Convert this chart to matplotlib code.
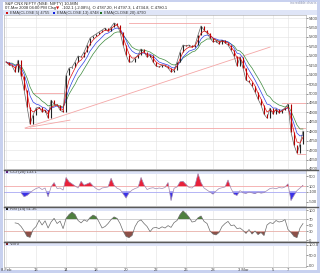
import numpy as np
import matplotlib
matplotlib.use('Agg')
import matplotlib.pyplot as plt
from matplotlib.patches import Rectangle
from matplotlib.lines import Line2D

# ---- data (bar index 0..99) ----
close = [5167, 5151, 5146, 5114, 5177, 5093, 5018, 4928, 4838, 4886,
         4923, 4928, 4902, 4912, 4870, 4965, 4944, 4939, 4912, 4902,
         5098, 5135, 5140, 5167, 5199, 5193, 5220, 5257, 5294, 5305,
         5315, 5326, 5336, 5347, 5331, 5352, 5374, 5363, 5326, 5257,
         5204, 5167, 5167, 5188, 5204, 5236, 5220, 5193, 5204, 5167,
         5146, 5140, 5151, 5146, 5135, 5114, 5124, 5167, 5220, 5257,
         5252, 5257, 5246, 5257, 5310, 5358, 5336, 5320, 5294, 5273,
         5278, 5262, 5283, 5268, 5257, 5230, 5199, 5146, 5193, 5135,
         5071, 5061, 5040, 5008, 4971, 4939, 4891, 4870, 4923, 4891,
         4918, 4896, 4912, 4923, 4944, 4796, 4727, 4684, 4732, 4801]
ema5 = [5167, 5156, 5151, 5135, 5156, 5124, 5071, 5002, 4918, 4902,
        4912, 4923, 4912, 4912, 4891, 4928, 4934, 4939, 4923, 4912,
        5008, 5071, 5103, 5135, 5167, 5177, 5199, 5230, 5262, 5283,
        5299, 5310, 5326, 5336, 5331, 5342, 5358, 5363, 5342, 5299,
        5252, 5209, 5188, 5188, 5199, 5214, 5220, 5204, 5204, 5188,
        5167, 5156, 5151, 5151, 5140, 5130, 5124, 5146, 5183, 5220,
        5236, 5246, 5246, 5252, 5283, 5320, 5331, 5326, 5310, 5294,
        5283, 5273, 5278, 5273, 5268, 5246, 5225, 5188, 5188, 5161,
        5119, 5087, 5066, 5040, 5002, 4971, 4934, 4902, 4912, 4902,
        4912, 4902, 4907, 4918, 4928, 4865, 4796, 4743, 4737, 4769]
ema13 = [5167, 5161, 5156, 5146, 5156, 5135, 5103, 5050, 4987, 4955,
         4944, 4939, 4928, 4923, 4907, 4923, 4928, 4934, 4928, 4923,
         4976, 5024, 5061, 5093, 5124, 5146, 5167, 5193, 5225, 5246,
         5268, 5283, 5299, 5315, 5320, 5331, 5342, 5347, 5342, 5315,
         5283, 5246, 5225, 5214, 5209, 5214, 5214, 5209, 5209, 5199,
         5183, 5167, 5161, 5156, 5151, 5140, 5135, 5146, 5167, 5193,
         5209, 5225, 5230, 5236, 5257, 5289, 5305, 5310, 5305, 5294,
         5289, 5283, 5283, 5278, 5273, 5262, 5241, 5214, 5209, 5188,
         5151, 5124, 5098, 5071, 5040, 5008, 4976, 4944, 4939, 4923,
         4923, 4912, 4912, 4918, 4923, 4886, 4838, 4790, 4775, 4780]
ema20 = [5167, 5161, 5161, 5151, 5156, 5146, 5119, 5082, 5034, 5002,
         4987, 4976, 4960, 4949, 4934, 4939, 4939, 4939, 4934, 4928,
         4960, 4997, 5024, 5050, 5082, 5103, 5130, 5156, 5183, 5209,
         5230, 5252, 5268, 5283, 5294, 5305, 5320, 5326, 5326, 5310,
         5289, 5268, 5246, 5236, 5230, 5230, 5230, 5225, 5220, 5209,
         5199, 5188, 5183, 5177, 5167, 5156, 5151, 5156, 5167, 5188,
         5199, 5209, 5220, 5225, 5241, 5268, 5278, 5289, 5289, 5289,
         5283, 5278, 5278, 5278, 5273, 5262, 5252, 5230, 5225, 5209,
         5183, 5156, 5135, 5108, 5082, 5055, 5024, 4992, 4981, 4960,
         4949, 4939, 4934, 4928, 4934, 4907, 4870, 4833, 4812, 4812]
nan = np.nan
cci = [nan, nan, nan, nan, nan, -150, -300, -250, -150, -50,
       20, 60, -20, 40, -300, 80, 250, 20, 40, -40,
       450, 280, 200, 120, 40, 300, 150, 200, 250, 120,
       20, -40, 40, 60, 80, 420, 150, 30, -20, -180,
       -350, -150, -40, 20, 60, 450, 160, -20, 30, 50,
       10, 40, 20, 60, 250, -450, 30, 80, 280, 300,
       180, 60, 40, 150, 600, 250, 40, -40, -120, -200,
       -80, 20, 50, 80, 350, 20, -200, -250, -60, -150,
       -170, -120, -150, -180, -120, -160, -140, -60, 20, 40,
       10, 60, 40, 80, 200, -450, -250, -60, 40, 140]
rsi = [nan, nan, nan, 57, 55, 45, 30, 12, 9, 35,
       45, 66, 50, 64, 40, 60, 72, 55, 63, 38,
       72, 85, 93, 85, 65, 57, 67, 62, 75, 83,
       78, 60, 40, 45, 55, 68, 77, 72, 55, 30,
       12, 8, 15, 45, 62, 67, 55, 45, 28, 40,
       42, 38, 44, 40, 48, 42, 58, 65, 85, 97,
       88, 76, 60, 62, 74, 80, 62, 55, 30, 20,
       17, 25, 45, 55, 62, 48, 50, 38, 40, 32,
       22, 35, 20, 30, 18, 25, 15, 50, 58, 55,
       65, 60, 62, 68, 35, 25, 12, 8, 40, 55]

day_pos = [0, 10, 20, 30, 40, 50, 60, 69, 79, 89, 94]
day_labels = ['8 Feb', '13', '14', '18', '20', '22', '26', '28', '3 Mar', '5', '7']

price_ticks = list(range(4600, 5401, 50))
cci_ticks = [500, 100, -100, -500]
rsi_ticks = [100, 70, 50, 30, 0]
vol_ticks = [100, 50, 0]

# drawn support / resistance and trend lines: (bar0, price0, bar1, price1)
hlines = [(6.3, 4817, 100, 4817), (9, 5002, 19, 5002), (41, 5374, 68, 5374),
          (92, 4949, 100, 4949), (97, 4679, 100, 4679)]
tlines = [(6.3, 4817, 88, 5246), (8, 4822, 21.3, 4859)]

# ---- figure ----
W, H = 320, 273
plt.rcParams['font.family'] = ['Liberation Sans', 'DejaVu Sans']
fig = plt.figure(figsize=(W / 100, H / 100), dpi=100)
fig.patch.set_facecolor('#c8d1ef')


def box(x0, y0, x1, y1):
    return [x0 / W, 1 - y1 / H, (x1 - x0) / W, (y1 - y0) / H]


# white chart body and legend strip, behind the axes
fig.patches.append(Rectangle((3 / W, 1 - 270 / H), 314 / W, 268 / H,
                             transform=fig.transFigure, facecolor='white',
                             edgecolor='none', zorder=-2))
fig.patches.append(Rectangle((3 / W, 1 - 15 / H), 314 / W, 4.5 / H,
                             transform=fig.transFigure, facecolor='#dfe5f7',
                             edgecolor='none', zorder=-1))

fs = 3.0
tc = '#444444'
fig.text(5 / W, 1 - 3.5 / H, 'S&P CNX NIFTY (NSE: NIFTY) 10-MIN', fontsize=fs,
         color='#222222', va='center')
fig.text(5 / W, 1 - 8 / H, '07-Mar 2008 04:00 PM Clsg', fontsize=fs,
         color='#222222', va='center')
fig.text(56 / W, 1 - 8 / H, '\u25bc', fontsize=fs, color='#d01010', va='center',
         family='DejaVu Sans')
fig.text(62 / W, 1 - 8 / H, '-102.1 (-2.08%), O 4787.20, H 4797.3, L 4734.8, C 4780.1',
         fontsize=fs, color='#222222', va='center')
fig.text(316 / W, 1 - 3 / H, 'incredible charts', fontsize=2.6, color='#8890b0',
         va='center', ha='right')

leg = [('EMA(CLOSE,5) 4755', '#d01010', 6),
       ('EMA(CLOSE,13) 4748', '#1020e0', 53),
       ('EMA(CLOSE,20) 4790', '#207020', 100)]
for txt, c, x in leg:
    fig.patches.append(Rectangle((x / W, 1 - 14 / H), 2 / W, 2 / H,
                                 transform=fig.transFigure, facecolor=c,
                                 edgecolor='none'))
    fig.text((x + 4) / W, 1 - 13 / H, txt, fontsize=fs, color='#333333', va='center')

ax_p = fig.add_axes(box(4, 15, 306, 169))
ax_c = fig.add_axes(box(4, 170, 306, 206))
ax_r = fig.add_axes(box(4, 207, 306, 241))
ax_v = fig.add_axes(box(4, 242, 306, 267))

bars = np.arange(len(close))
for ax in (ax_p, ax_c, ax_r, ax_v):
    ax.set_facecolor('white')
    ax.set_xlim(-0.7, 100)
    ax.yaxis.tick_right()
    ax.tick_params(axis='y', labelsize=fs, colors=tc, length=1.2, width=0.4, pad=1)
    ax.tick_params(axis='x', length=0, labelsize=fs, colors=tc, pad=1)
    for s in ax.spines.values():
        s.set_color('#a0a0a0')
        s.set_linewidth(0.4)
    ax.set_xticks(day_pos)
    ax.set_xticklabels([])
    ax.grid(True, color='#e2e2e2', linewidth=0.4)
    ax.set_axisbelow(True)

ax_v.set_xticklabels(day_labels)

# ---- price panel ----
ax_p.set_ylim(4600, 5416)
ax_p.set_yticks(price_ticks)
ax_p.set_yticklabels([str(t) for t in price_ticks])
for b0, p0, b1, p1 in hlines + tlines:
    ax_p.plot([b0, b1], [p0, p1], color='#f4a6a6', linewidth=0.6, zorder=2)
ax_p.plot(bars, ema20, color='#3c8a3c', linewidth=0.5, zorder=3)
ax_p.plot(bars, ema13, color='#3040e8', linewidth=0.5, zorder=3)
ax_p.plot(bars, close, color='#606060', linewidth=0.5, zorder=4)
prev = [close[0]] + close[:-1]
for b, o, c in zip(bars, prev, close):
    col = '#222222' if c >= o else '#b00000'
    ax_p.plot([b, b], [o, c], color=col, linewidth=0.8, zorder=5,
              solid_capstyle='butt')
ax_p.plot(bars, ema5, color='#e01010', linewidth=0.5, zorder=6)

# ---- CCI panel ----
cci_a = np.array(cci, dtype=float)
ax_c.set_ylim(-660, 740)
ax_c.set_yticks(cci_ticks)
ax_c.set_yticklabels([str(t) for t in cci_ticks])
ax_c.grid(False, axis='y')
ax_c.axhline(100, color='#f4a8a8', linewidth=0.6)
ax_c.axhline(-100, color='#a8a8f4', linewidth=0.6)
ax_c.fill_between(bars, 100, cci_a, where=cci_a > 100, interpolate=True,
                  color='#e8203a', linewidth=0)
ax_c.fill_between(bars, -100, cci_a, where=cci_a < -100, interpolate=True,
                  color='#3a30e8', linewidth=0)
ax_c.plot(bars, cci_a, color='#a088b0', linewidth=0.5)

# ---- RSI panel ----
rsi_a = np.array(rsi, dtype=float)
ax_r.set_ylim(-3.3, 110)
ax_r.set_yticks(rsi_ticks)
ax_r.set_yticklabels([str(t) for t in rsi_ticks])
ax_r.grid(False, axis='y')
ax_r.axhline(70, color='#c8c8c8', linewidth=0.6)
ax_r.axhline(30, color='#e8b0a8', linewidth=0.6)
ax_r.fill_between(bars, 70, rsi_a, where=rsi_a > 70, interpolate=True,
                  color='#4f7f3f', linewidth=0)
ax_r.fill_between(bars, 30, rsi_a, where=rsi_a < 30, interpolate=True,
                  color='#8c5048', linewidth=0)
ax_r.plot(bars, rsi_a, color='#6a6a6a', linewidth=0.5)

# ---- volume panel (empty for an index) ----
ax_v.set_ylim(-5, 114)
ax_v.set_yticks(vol_ticks)
ax_v.set_yticklabels(['100.0', '50.0', '0.0'])
ax_v.grid(False, axis='y')

# panel header bands
heads = [(ax_c, 'CCI (20) 133.1', '#602080', 36),
         (ax_r, 'RSI (14) 51.36', '#111111', 34),
         (ax_v, 'Vol 0', '#802020', 25)]
for ax, txt, c, hpx in heads:
    ax.add_patch(Rectangle((0, 1 - 3.5 / hpx), 1, 3.5 / hpx, transform=ax.transAxes,
                           facecolor='#dde3f7', edgecolor='none', zorder=1))
    ax.add_patch(Rectangle((0.007, 1 - 3 / hpx), 0.007, 2.2 / hpx,
                           transform=ax.transAxes, facecolor=c,
                           edgecolor='none', zorder=2))
    ax.text(0.02, 1 - 1.7 / hpx, txt, transform=ax.transAxes, fontsize=fs,
            color='#333333', va='center', zorder=3)

# dark separators between panels
for yy in (169.6, 206.6, 241.6):
    fig.lines.append(Line2D([4 / W, 318 / W], [1 - yy / H, 1 - yy / H],
                            transform=fig.transFigure, color='#5a5a5a',
                            linewidth=1.0))

fig.savefig('out.png', dpi=100, facecolor=fig.get_facecolor())
